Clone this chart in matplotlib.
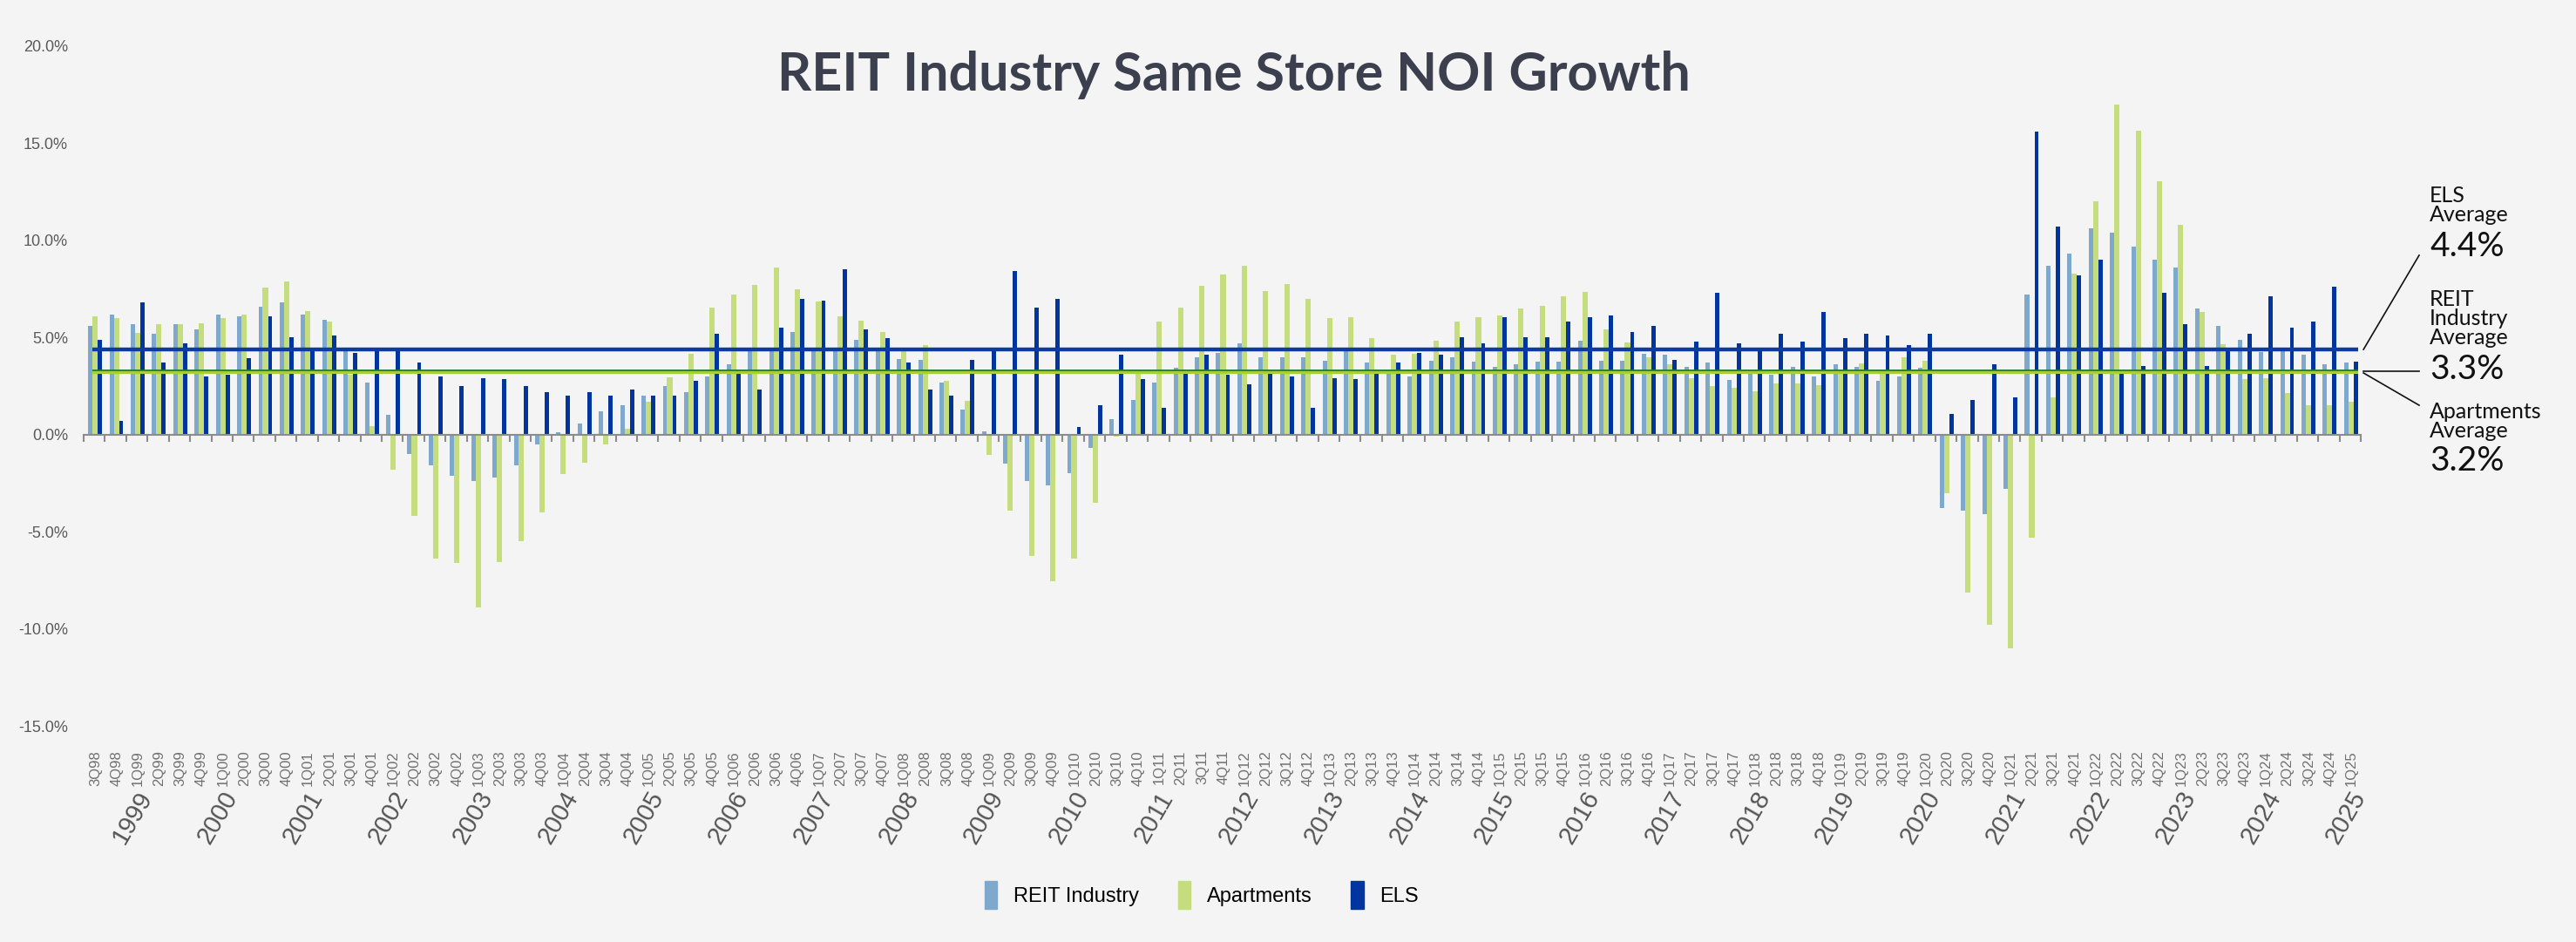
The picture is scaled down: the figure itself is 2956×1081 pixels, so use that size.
import numpy as np
import matplotlib
matplotlib.use("Agg")
import matplotlib.pyplot as plt
from matplotlib.patches import Patch
from matplotlib.lines import Line2D
from matplotlib.transforms import blended_transform_factory

# quarterly same store NOI growth, 3Q98 .. 1Q25 (%)
reit = [
    5.6, 6.2, 5.7, 5.2, 5.7, 5.4, 6.2, 6.1, 6.6, 6.8,
    6.2, 5.9, 4.3, 2.7, 1.0, -1.0, -1.6, -2.1, -2.4, -2.2,
    -1.6, -0.5, 0.1, 0.55, 1.2, 1.5, 2.0, 2.5, 2.2, 3.0,
    3.6, 4.3, 4.45, 5.3, 4.35, 4.3, 4.9, 4.45, 3.9, 3.85,
    2.7, 1.3, 0.15, -1.5, -2.4, -2.6, -2.0, -0.7, 0.8, 1.8,
    2.7, 3.45, 4.0, 4.2, 4.7, 4.0, 4.0, 4.0, 3.8, 4.35,
    3.7, 3.2, 3.0, 3.8, 4.0, 3.75, 3.5, 3.6, 3.75, 3.75,
    4.85, 3.8, 3.8, 4.15, 4.1, 3.5, 3.7, 2.8, 3.2, 3.1,
    3.5, 3.0, 3.6, 3.5, 2.75, 3.0, 3.45, -3.8, -3.9, -4.1,
    -2.8, 7.2, 8.7, 9.3, 10.6, 10.4, 9.7, 9.0, 8.6, 6.5,
    5.6, 4.9, 4.25, 4.35, 4.1, 3.6, 3.7,
]
apartments = [
    6.1, 6.0, 5.25, 5.7, 5.7, 5.75, 6.0, 6.2, 7.55, 7.9,
    6.35, 5.8, 3.1, 0.45, -1.8, -4.2, -6.4, -6.6, -8.9, -6.55,
    -5.5, -4.0, -2.05, -1.45, -0.5, 0.3, 1.7, 2.95, 4.15, 6.55,
    7.2, 7.7, 8.6, 7.5, 6.85, 6.1, 5.85, 5.3, 4.35, 4.6,
    2.75, 1.75, -1.05, -3.9, -6.25, -7.55, -6.4, -3.5, -0.1, 3.2,
    5.8, 6.55, 7.65, 8.25, 8.7, 7.4, 7.75, 7.0, 6.0, 6.05,
    4.95, 4.1, 4.15, 4.85, 5.8, 6.05, 6.15, 6.5, 6.65, 7.1,
    7.35, 5.4, 4.75, 4.0, 3.6, 2.9, 2.5, 2.4, 2.25, 2.65,
    2.65, 2.55, 3.2, 3.65, 3.2, 4.0, 3.8, -3.0, -8.15, -9.8,
    -11.0, -5.3, 1.9, 8.3, 12.0, 17.0, 15.65, 13.05, 10.8, 6.3,
    4.65, 2.85, 2.9, 2.15, 1.5, 1.5, 1.7,
]
els = [
    4.9, 0.7, 6.8, 3.7, 4.7, 3.0, 3.1, 3.95, 6.1, 5.0,
    4.4, 5.1, 4.2, 4.4, 4.3, 3.7, 3.0, 2.5, 2.9, 2.85,
    2.5, 2.2, 2.0, 2.2, 2.0, 2.3, 2.0, 2.0, 2.75, 5.2,
    3.15, 2.3, 5.5, 7.0, 6.9, 8.5, 5.4, 4.95, 3.7, 2.3,
    2.0, 3.85, 4.4, 8.4, 6.55, 7.0, 0.4, 1.5, 4.1, 2.85,
    1.4, 3.15, 4.1, 3.1, 2.6, 3.15, 3.0, 1.4, 2.9, 2.85,
    3.15, 3.7, 4.2, 4.1, 5.0, 4.7, 6.05, 5.0, 5.0, 5.8,
    6.05, 6.15, 5.3, 5.6, 3.85, 4.8, 7.3, 4.7, 4.4, 5.2,
    4.8, 6.3, 4.95, 5.2, 5.1, 4.6, 5.2, 1.05, 1.8, 3.6,
    1.9, 15.6, 10.7, 8.2, 9.0, 3.3, 3.55, 7.3, 5.7, 3.55,
    4.4, 5.2, 7.1, 5.5, 5.8, 7.6, 3.75,
]
els_avg = 4.4
reit_avg = 3.3
apt_avg = 3.2

# quarter labels 3Q98 .. 1Q25
quarters = []
for yr in range(1998, 2026):
    for q in range(1, 5):
        if (yr == 1998 and q < 3) or (yr == 2025 and q > 1):
            continue
        quarters.append(f"{q}Q{yr % 100:02d}")
years = list(range(1999, 2026))

c_reit = "#7fa8cd"
c_apt = "#c6dd7d"
c_els = "#0035a0"
bg = "#f3f4f3"
sans = ["Liberation Sans", "DejaVu Sans"]

fig = plt.figure(figsize=(29.56, 10.81), dpi=100, facecolor=bg)
ax = fig.add_axes([0.0325, 0.2294, 0.8840, 0.7216])
ax.set_facecolor(bg)

x = np.arange(len(quarters))
ax.bar(x + 0.31, reit, width=0.205, color=c_reit, zorder=2)
ax.bar(x + 0.535, apartments, width=0.25, color=c_apt, zorder=2)
ax.bar(x + 0.76, els, width=0.2, color=c_els, zorder=2)

# average lines
ax.hlines(els_avg, 0.4, 106.85, color="#0b3c9e", lw=3.2, zorder=4)
ax.hlines(apt_avg, 0.4, 106.85, color="#a6ce39", lw=3.0, zorder=4)
ax.hlines(reit_avg, 0.4, 106.85, color="#1f7a3a", lw=1.3, zorder=5)

ax.set_xlim(0, len(quarters))
ax.set_ylim(-15, 20)
for s in ["top", "right", "left"]:
    ax.spines[s].set_visible(False)
ax.spines["bottom"].set_position(("data", 0))
ax.spines["bottom"].set_color("#8c8c8c")
ax.spines["bottom"].set_linewidth(1.5)
ax.spines["bottom"].set_zorder(3)
ax.set_xticks(np.arange(0, len(quarters) + 1))
ax.tick_params(axis="x", length=6, width=1.5, color="#8c8c8c",
               direction="out", labelbottom=False)

yt = np.arange(-15, 21, 5)
ax.set_yticks(yt)
ax.set_yticklabels([f"{v:.1f}%" for v in yt], family=sans)
ax.tick_params(axis="y", length=0, pad=13, labelsize=13, labelcolor="#595959")

trans = blended_transform_factory(ax.transData, ax.transAxes)
for i, lab in enumerate(quarters):
    ax.text(i + 0.55, -0.036, lab, rotation=90, ha="center", va="top",
            fontsize=12, color="#707070", family=sans, transform=trans)
for yr in years:
    idx = quarters.index(f"1Q{yr % 100:02d}")
    ax.text(idx + 0.3, -0.135, str(yr), rotation=60, ha="center",
            va="center", fontsize=21, color="#555555", family=sans,
            transform=trans)

# title
fig.text(0.479, 0.904, "REIT Industry Same Store NOI Growth", ha="center",
         va="baseline", fontsize=44, fontweight="bold", color="#3b3f4e",
         family=["Lato", "DejaVu Sans"])

# legend
handles = [Patch(color=c_reit), Patch(color=c_apt), Patch(color=c_els)]
fig.legend(handles, ["REIT Industry", "Apartments", "ELS"], loc="center",
           bbox_to_anchor=(0.4665, 0.05), ncol=3, frameon=False,
           prop={"family": sans, "size": 17}, handlelength=0.6,
           handleheight=1.75, handletextpad=0.8, columnspacing=1.9)

# right hand average callouts
for x0, y0, x1, y1 in [(0.9175, 0.629, 0.9391, 0.729),
                       (0.9175, 0.6059, 0.9391, 0.6059),
                       (0.9175, 0.6041, 0.9391, 0.5698)]:
    fig.add_artist(Line2D([x0, x1], [y0, y1], transform=fig.transFigure,
                          color="#111111", lw=1.2))

lato = ["Lato", "DejaVu Sans"]
tx = 0.9432
fig.text(tx, 0.803, "ELS\nAverage", va="top", ha="left", fontsize=18,
         linespacing=0.95, color="#111111", family=lato)
fig.text(tx, 0.755, f"{els_avg:.1f}%", va="top", ha="left", fontsize=28,
         color="#111111", family=lato)
fig.text(tx, 0.693, "REIT\nIndustry\nAverage", va="top", ha="left",
         fontsize=18, linespacing=0.95, color="#111111", family=lato)
fig.text(tx, 0.6245, f"{reit_avg:.1f}%", va="top", ha="left", fontsize=28,
         color="#111111", family=lato)
fig.text(tx, 0.5735, "Apartments\nAverage", va="top", ha="left",
         fontsize=18, linespacing=0.95, color="#111111", family=lato)
fig.text(tx, 0.5273, f"{apt_avg:.1f}%", va="top", ha="left", fontsize=28,
         color="#111111", family=lato)

fig.savefig("out.png", dpi=100, facecolor=bg)
